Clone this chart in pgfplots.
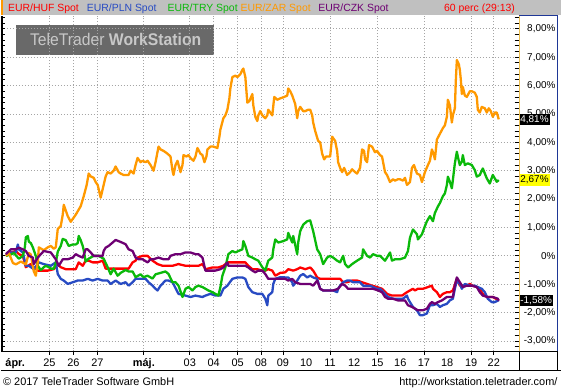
\documentclass[border=0pt]{standalone}
\usepackage{fontspec}
\setmainfont{Liberation Sans}
\usepackage{pgfplots}
\pgfplotsset{compat=1.18}
\definecolor{cHUF}{RGB}{255,0,0}
\definecolor{cPLN}{RGB}{40,75,195}
\definecolor{cTRY}{RGB}{10,185,10}
\definecolor{cZAR}{RGB}{255,153,0}
\definecolor{cCZK}{RGB}{110,0,115}
\definecolor{hdr}{RGB}{192,192,192}
\definecolor{gridc}{RGB}{165,165,165}
\definecolor{wm}{RGB}{105,105,105}
\definecolor{wmtext}{RGB}{200,200,200}
\definecolor{panelblue}{RGB}{30,55,150}
\definecolor{panelyel}{RGB}{235,190,80}
\definecolor{lblyel}{RGB}{255,255,0}
\begin{document}
\begin{tikzpicture}
\begin{scope}[x=1bp,y=1bp]
\useasboundingbox (0,0) rectangle (561,390);
\fill[white] (0,0) rectangle (561,390);
% header
\fill[hdr] (0,375) rectangle (561,390);
\fill[cZAR] (0,375) rectangle (2.5,390);
\begin{scope}[every node/.style={anchor=base west, inner sep=0, font=\fontsize{10.5}{12}\selectfont}]
\node[text=cHUF] at (7,378.5) {EUR/HUF Spot};
\node[text=cPLN] at (86,378.5) {EUR/PLN Spot};
\node[text=cTRY] at (167,378.5) {EUR/TRY Spot};
\node[text=cZAR] at (240,378.5) {EUR/ZAR Spot};
\node[text=cCZK] at (318,378.5) {EUR/CZK Spot};
\node[text=cHUF] at (444,378.5) {60 perc (29:13)};
\end{scope}
% watermark
\fill[wm] (15,335) rectangle (214,365);
\node[text=wmtext, inner sep=0, anchor=base, font=\fontsize{17}{17}\selectfont] at (115,344) {\scalebox{0.93}[1]{TeleTrader \textbf{WorkStation}}};
\end{scope}
\begin{axis}[
  at={(3bp,37.7bp)}, anchor=south west, scale only axis,
  width=516bp, height=336.3bp,
  xmin=3, xmax=519, ymin=-3.37, ymax=8.453,
  axis line style={draw=none},
  major tick length=0pt, minor tick length=0pt,
  clip=false,
  grid=major,
  major grid style={dash pattern=on 1bp off 2bp, line width=0.8bp, gridc},
  xtick={48.7,72.7,96.7,143.3,189.3,213.3,237.3,260.7,282.7,330,377.3,424,471.3,494},
  xticklabels={},
  xtick pos=bottom,
  ytick={-3,-2,-1,0,1,2,3,4,5,6,7,8},
  yticklabels={{-3,00\%},{-2,00\%},{-1,00\%},{0\%},{1,00\%},{2,00\%},{3,00\%},{4,00\%},{5,00\%},{6,00\%},{7,00\%},{8,00\%}},
  ytick pos=right,
  yticklabel style={anchor=east, xshift=37bp, inner sep=0pt, font=\fontsize{10}{11}\selectfont},
  every axis plot/.append style={line width=2.3bp, no markers, line join=round},
]
\addplot[cHUF] coordinates {(5,0)(10,0.12)(15,0.17)(18,0.06)(22,0)(25,-0.4)(30,-0.29)(33,-0.4)(37,-0.52)(42,-0.52)(47,-0.52)(53,-0.47)(57,-0.29)(60,-0.4)(65,-0.47)(70,-0.47)(75,-0.47)(78,-0.23)(82,-0.35)(85,-0.17)(88,-0.17)(92,-0.23)(97,-0.23)(102,-0.17)(105,-0.45)(110,-0.45)(120,-0.45)(128,-0.45)(132,-0.23)(135,-0.17)(137,-0.06)(142,0)(147,0)(152,-0.17)(157,-0.29)(162,-0.35)(165,-0.35)(172,-0.35)(178,-0.29)(185,-0.35)(192,-0.35)(198,-0.35)(202,-0.29)(205,-0.47)(212,-0.41)(218,-0.41)(223,-0.35)(227,-0.23)(232,-0.23)(238,-0.23)(245,-0.23)(248,-0.35)(252,-0.47)(257,-0.47)(262,-0.52)(265,-0.52)(268,-0.47)(272,-0.52)(275,-0.7)(280,-0.6)(285,-0.58)(288,-0.47)(293,-0.52)(297,-0.47)(300,-0.41)(305,-0.47)(310,-0.41)(313,-0.52)(317,-0.76)(320,-0.81)(327,-0.81)(333,-0.81)(340,-0.81)(343,-0.93)(347,-0.93)(352,-0.87)(357,-0.87)(362,-0.93)(367,-0.99)(372,-1.05)(377,-1.1)(382,-1.16)(387,-1.34)(392,-1.4)(397,-1.4)(402,-1.4)(407,-1.28)(410,-1.22)(413,-1.16)(415,-1.22)(418,-1.16)(423,-1.16)(428,-1.1)(432,-1.05)(433,-1.16)(437,-1.28)(440,-1.45)(443,-1.34)(447,-1.28)(450,-1.28)(453,-1.22)(457,-0.81)(460,-1.05)(463,-1.05)(467,-1.05)(470,-0.99)(473,-1.05)(477,-1.1)(480,-1.16)(483,-1.34)(487,-1.45)(493,-1.45)(496,-1.51)(499,-1.58)};
\addplot[cPLN] coordinates {(5,0)(10,0.12)(15,0.12)(17,0.4)(18,0.23)(22,0.12)(25,-0.35)(28,-0.35)(33,-0.47)(38,-0.23)(43,-0.29)(50,-0.35)(55,-0.23)(57,-0.64)(60,-0.81)(63,-0.87)(67,-0.99)(72,-0.93)(77,-0.87)(82,-0.87)(87,-0.81)(92,-0.87)(97,-0.81)(102,-0.87)(107,-0.87)(110,-0.99)(115,-0.87)(120,-0.99)(125,-0.93)(128,-1.05)(132,-0.93)(135,-0.81)(140,-0.81)(145,-0.81)(148,-0.93)(152,-1.05)(155,-1.16)(157,-1.22)(160,-1.05)(165,-0.87)(168,-0.87)(172,-0.93)(178,-1.34)(185,-1.4)(190,-1.45)(195,-1.4)(202,-1.45)(205,-1.4)(210,-1.34)(215,-1.4)(220,-1.4)(223,-1.16)(227,-1.05)(232,-0.81)(237,-0.76)(242,-0.76)(245,-0.81)(248,-1.1)(252,-1.28)(257,-1.34)(262,-1.34)(265,-1.51)(267,-1.74)(268,-1.4)(272,-1.28)(273,-0.99)(275,-0.81)(280,-0.75)(285,-0.76)(288,-0.76)(292,-0.93)(293,-1.05)(297,-0.87)(300,-0.7)(303,-0.64)(307,-0.76)(310,-0.7)(313,-0.76)(317,-0.81)(320,-1.16)(323,-1.22)(327,-1.22)(333,-1.22)(337,-1.28)(338,-1.16)(340,-1.05)(343,-0.93)(347,-0.87)(350,-0.87)(353,-0.93)(360,-0.93)(363,-1.05)(367,-1.05)(370,-1.05)(373,-1.1)(377,-1.16)(380,-1.16)(385,-1.34)(388,-1.45)(393,-1.51)(398,-1.51)(403,-1.51)(407,-1.4)(408,-1.51)(410,-1.63)(413,-1.8)(417,-1.92)(420,-2.09)(423,-2.09)(427,-2.03)(430,-1.74)(433,-1.74)(437,-1.69)(440,-1.8)(443,-1.74)(447,-1.69)(450,-1.57)(453,-1.51)(455,-1.16)(457,-0.87)(460,-0.99)(462,-1.16)(465,-0.99)(470,-1.05)(475,-1.05)(478,-1.1)(482,-1.16)(485,-1.28)(488,-1.51)(492,-1.63)(495,-1.63)(499,-1.56)};
\addplot[cTRY] coordinates {(5,0)(10,0.05)(13,0.1)(18,-0.1)(22,0)(24,0.3)(25,0.65)(27,0.7)(28,0.5)(30,0.45)(32,0.3)(33,0.2)(35,0)(37,-0.35)(40,-0.5)(43,-0.4)(45,-0.35)(48,-0.4)(50,-0.45)(53,-0.45)(55,-0.25)(57,0.15)(60,0.35)(62,0.6)(65,0.55)(68,0.35)(72,0.4)(75,0.4)(77,0.45)(78,0.7)(80,0.55)(82,0.35)(83,0.2)(85,-0.2)(88,-0.1)(93,0)(98,0)(103,-0.1)(107,-0.4)(110,-0.65)(113,-0.45)(117,-0.7)(120,-0.6)(125,-0.5)(128,-0.55)(132,-0.55)(135,-0.75)(140,-0.65)(143,-0.75)(147,-0.7)(152,-0.8)(155,-0.65)(160,-0.6)(165,-0.55)(168,-0.64)(172,-0.93)(175,-0.93)(178,-1.05)(182,-1.45)(185,-1.16)(188,-1.1)(192,-1.22)(195,-1.1)(198,-1.05)(202,-1.1)(205,-1.16)(208,-1.22)(212,-1.28)(215,-1.34)(218,-1.4)(220,-1.1)(222,-0.7)(225,-0.4)(228,0.06)(232,0.17)(235,0.12)(238,0.17)(242,0.23)(243,0.52)(245,0.35)(248,0)(252,-0.06)(255,-0.12)(258,-0.17)(262,-0.4)(265,-0.52)(268,-0.17)(272,-0.06)(273,0.23)(275,0.58)(278,0.47)(283,0.52)(287,0.58)(288,0.81)(292,0.47)(293,0.7)(297,0.06)(298,0.47)(300,0.87)(303,1.1)(307,1.22)(310,1.25)(313,0.87)(317,0.23)(320,0.06)(323,-0.29)(327,-0.06)(330,0)(333,-0.06)(337,-0.17)(340,-0.23)(343,0)(345,-0.29)(348,-0.41)(352,-0.29)(357,-0.17)(362,-0.06)(363,0.23)(367,0)(370,-0.06)(373,0.06)(377,0)(380,0)(385,-0.17)(387,-0.06)(390,0.12)(392,-0.17)(395,-0.12)(400,-0.12)(405,-0.06)(408,0.17)(410,0.64)(413,0.93)(417,0.76)(418,0.58)(422,0.76)(425,1.05)(427,1.22)(430,1.4)(433,1.22)(435,1.51)(438,1.74)(440,1.86)(443,2.1)(445,2.2)(447,2.5)(448,2.79)(450,2.61)(452,2.38)(453,2.67)(455,3.26)(457,3.67)(458,3.49)(460,3.2)(462,3.32)(463,3.55)(465,3.2)(468,3.26)(472,3.2)(475,3.02)(477,2.79)(480,2.85)(483,3.08)(487,2.73)(490,2.55)(493,2.85)(497,2.61)(499,2.67)};
\addplot[cZAR] coordinates {(5,0)(8,0.1)(12,-0.25)(15,-0.3)(20,-0.2)(25,-0.3)(28,0.1)(30,0.05)(33,-0.55)(35,-0.7)(37,-0.2)(38,0.3)(43,0.2)(47,0.3)(50,0.35)(53,0.25)(55,0.3)(57,0.95)(60,1.05)(62,1.45)(63,1.8)(65,1.6)(67,1.4)(70,1.2)(75,1.45)(80,1.75)(83,2.1)(86,2.5)(88,2.9)(90,2.8)(93,2.75)(95,2.6)(97,2.5)(100,2.05)(103,2.5)(105,2.8)(107,2.95)(110,2.9)(113,3.0)(115,3.15)(118,2.95)(120,2.9)(123,2.85)(125,2.85)(128,2.85)(130,3.0)(133,2.9)(135,3.2)(137,3.45)(140,3.3)(142,3.35)(145,3.3)(147,3.35)(150,3.2)(153,3.0)(155,3.3)(158,3.85)(160,3.75)(163,3.7)(167,3.6)(170,3.5)(172,3.0)(173,2.85)(175,3.2)(177,3.35)(180,2.95)(182,3.2)(183,3.55)(186,3.5)(188,3.55)(190,3.45)(193,3.35)(195,3.5)(197,3.8)(200,3.6)(202,3.55)(204,3.3)(206,3.5)(207,3.75)(210,3.85)(213,3.85)(217,3.8)(219,4.2)(220,4.45)(223,4.85)(225,4.95)(227,5.15)(229,5.55)(230,5.9)(232,6.3)(235,6.35)(237,6.3)(240,6.4)(242,6.55)(243,6.6)(245,6.3)(247,5.4)(249,5.45)(252,5.7)(253,5.3)(255,4.9)(257,4.75)(258,4.95)(260,5.1)(262,4.95)(265,4.85)(267,4.95)(268,5.15)(270,5.05)(272,4.95)(274,5.6)(277,5.5)(280,5.55)(284,5.6)(287,5.65)(288,5.9)(290,5.8)(292,5.65)(295,5.35)(297,4.85)(298,5.1)(300,5.25)(303,5.1)(305,5.1)(308,5.15)(310,5.15)(312,4.95)(313,4.7)(315,4.4)(318,4.05)(320,4.0)(322,3.6)(324,3.4)(326,3.5)(330,3.5)(332,4.2)(335,4.05)(337,3.7)(338,3.3)(340,3.1)(342,2.95)(344,3.1)(347,2.85)(350,2.95)(352,3.05)(355,2.95)(357,2.9)(360,3.1)(362,3.75)(364,3.7)(365,3.4)(367,3.3)(369,3.9)(372,3.85)(375,3.65)(377,3.7)(380,3.55)(382,3.5)(385,2.95)(387,2.85)(390,2.6)(393,2.7)(395,2.65)(398,2.7)(400,2.7)(403,2.65)(405,2.75)(407,2.5)(410,2.6)(412,3.1)(414,3.2)(417,2.9)(420,2.85)(422,2.6)(425,2.95)(428,3.2)(430,3.35)(432,3.75)(434,3.55)(435,3.4)(437,4.1)(440,4.3)(443,4.5)(445,4.6)(447,4.9)(448,5.5)(450,5.3)(452,4.7)(453,4.95)(455,5.2)(456,6.2)(457,6.9)(459,6.75)(460,6.55)(461,6.2)(462,5.7)(463,5.95)(465,5.65)(467,5.6)(470,5.8)(472,5.8)(475,5.75)(477,5.6)(478,5.15)(480,5.05)(482,5.25)(485,5.2)(487,5.05)(489,5.2)(491,5.1)(493,4.9)(495,5.05)(497,5.05)(499,4.81)};
\addplot[cCZK] coordinates {(5,0.06)(10,0.23)(15,0.23)(18,0.29)(22,0.23)(25,0.17)(28,0)(32,-0.06)(33,-0.29)(37,-0.06)(40,0.06)(43,0.17)(50,0.12)(55,-0.12)(58,-0.35)(62,-0.12)(67,-0.12)(72,-0.06)(75,0.06)(78,0)(82,-0.06)(85,0.23)(87,0.23)(90,0.12)(93,0)(98,0)(102,0)(103,0.17)(105,0.29)(108,0.35)(112,0.47)(115,0.56)(120,0.49)(125,0.41)(128,0.23)(132,0.17)(135,-0.06)(138,-0.12)(142,-0.12)(147,-0.23)(150,-0.12)(153,-0.12)(158,-0.06)(163,-0.12)(168,-0.12)(170,0)(175,0.06)(180,0.06)(185,0.12)(190,0.12)(195,0.06)(198,0.06)(202,-0.06)(205,-0.52)(210,-0.52)(215,-0.52)(220,-0.47)(223,-0.41)(227,-0.23)(228,-0.35)(232,-0.35)(237,-0.35)(242,-0.35)(245,-0.35)(248,-0.41)(252,-0.52)(255,-0.58)(258,-0.52)(262,-0.52)(265,-0.64)(268,-0.81)(272,-0.81)(277,-0.81)(282,-0.81)(285,-0.81)(288,-0.87)(292,-0.81)(295,-0.93)(300,-0.99)(305,-0.99)(310,-0.99)(313,-1.05)(317,-0.87)(320,-1.16)(323,-1.22)(328,-1.22)(333,-1.22)(338,-1.16)(342,-0.99)(345,-1.05)(348,-1.16)(353,-1.16)(360,-1.16)(367,-1.16)(373,-1.16)(378,-1.22)(382,-1.28)(385,-1.45)(388,-1.51)(393,-1.51)(398,-1.57)(405,-1.57)(408,-1.74)(412,-1.8)(415,-1.86)(418,-1.92)(423,-1.92)(427,-1.86)(430,-1.69)(432,-1.63)(435,-1.69)(438,-1.63)(442,-1.57)(447,-1.45)(453,-1.45)(455,-1.05)(457,-0.76)(460,-0.93)(463,-1.1)(467,-1.05)(472,-1.05)(477,-1.1)(480,-1.28)(483,-1.4)(488,-1.45)(493,-1.45)(498,-1.51)(499,-1.58)};
\node[fill=black, text=white, anchor=west, inner xsep=1bp, inner ysep=1.5bp, font=\fontsize{10}{10}\selectfont] at (axis cs:519.5,4.81) {4,81\%};
\node[fill=lblyel, text=black, anchor=west, inner xsep=1bp, inner ysep=1.5bp, font=\fontsize{10}{10}\selectfont] at (axis cs:519.5,2.67) {2,67\%};
\node[fill=black, text=white, anchor=west, inner xsep=1bp, inner ysep=1.5bp, font=\fontsize{10}{10}\selectfont] at (axis cs:519.5,-1.58) {-1,58\%};
\end{axis}
\begin{scope}[x=1bp,y=1bp]
% frame and ticks
\draw[line width=1.5bp] (1,37.7) -- (1,374);
\foreach \k in {0,...,58} \draw[line width=0.8bp] (0,{42.54+\k*5.689}) -- (4,{42.54+\k*5.689});
\foreach \k in {0,...,58} \draw[line width=0.8bp] (515,{42.54+\k*5.689}) -- (519,{42.54+\k*5.689});
\draw[line width=1.8bp] (0,37.7) -- (519,37.7);
\foreach \xx in {48.7,72.7,96.7,143.3,189.3,213.3,237.3,260.7,282.7,330,377.3,424,471.3,494} \draw[line width=0.8bp] (\xx,37.7) -- (\xx,34.2);
\draw[panelyel, line width=1bp] (519.5,37.7) -- (519.5,374.5);
\draw[panelblue, line width=1.5bp] (519.5,374.5) -- (558,374.5) -- (558,37.7) -- (519.5,37.7);
\draw[line width=0.8bp] (519.5,19) rectangle (558,37.7);
\draw[line width=0.8bp] (0,19) -- (561,19);
% x labels
\begin{scope}[every node/.style={anchor=base, inner sep=0, font=\fontsize{11}{12}\selectfont}]
\node[font=\fontsize{11}{12}\bfseries\selectfont] at (14.3,23) {ápr.};
\node at (48.7,23) {25};
\node at (72.7,23) {26};
\node at (96.7,23) {27};
\node[font=\fontsize{11}{12}\bfseries\selectfont] at (143.3,23) {máj.};
\node at (189.3,23) {03};
\node at (213.3,23) {04};
\node at (237.3,23) {05};
\node at (260.7,23) {08};
\node at (282.7,23) {09};
\node at (306,23) {10};
\node at (330,23) {11};
\node at (354,23) {12};
\node at (377.3,23) {15};
\node at (400.3,23) {16};
\node at (424,23) {17};
\node at (447.3,23) {18};
\node at (471.3,23) {19};
\node at (494,23) {22};
\end{scope}
\node[anchor=base west, inner sep=0, font=\fontsize{11}{12}\selectfont] at (2,4) {© 2017 TeleTrader Software GmbH};
\node[anchor=base east, inner sep=0, font=\fontsize{11}{12}\selectfont] at (558,4) {http://workstation.teletrader.com/};
\end{scope}
\end{tikzpicture}
\end{document}
